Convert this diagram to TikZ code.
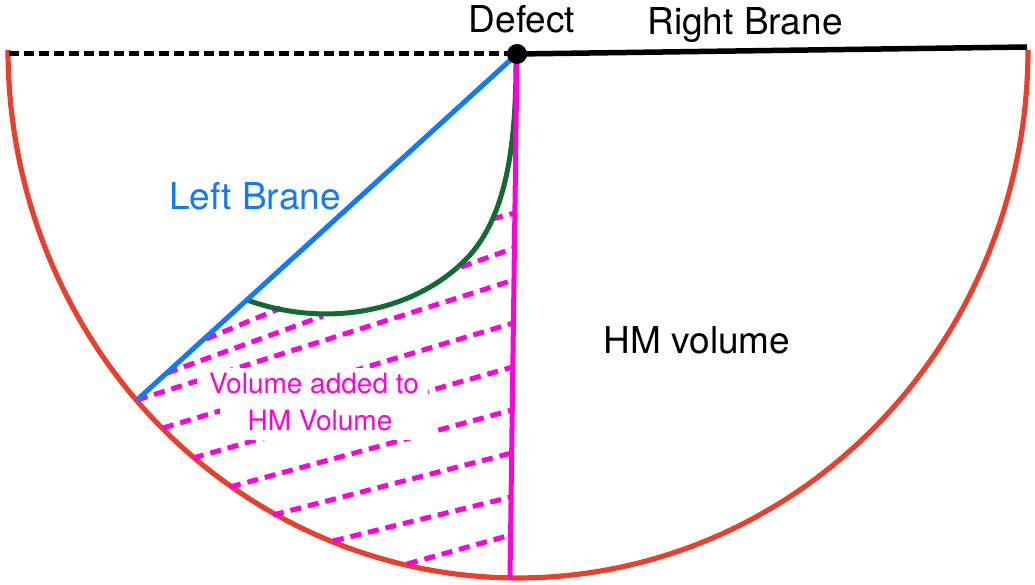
\documentclass[tikz,border=0pt]{standalone}
\usepackage{fontspec}
\setmainfont{TeX Gyre Heros}
\definecolor{arcred}{RGB}{232,64,44}
\definecolor{braneblue}{RGB}{18,122,246}
\definecolor{rtgreen}{RGB}{16,108,48}
\definecolor{hmpink}{RGB}{255,0,218}
\begin{document}
\begin{tikzpicture}[x=1pt,y=-1pt,
  hatch/.style={hmpink, line width=5pt, dash pattern=on 11pt off 7pt},
  big/.style={font=\fontsize{37}{40}\selectfont, anchor=base, inner sep=0pt},
  small/.style={font=\fontsize{28}{32}\selectfont, text=hmpink, anchor=base, inner sep=0pt}]
\useasboundingbox (0,0) rectangle (1035,585);
\coordinate (D) at (517,54);
\coordinate (L) at (9,54);
\coordinate (R) at (1027,47);
\coordinate (B) at (510,578);
\coordinate (C) at (137,400);
% boundary arc
\draw[arcred, line width=5.2pt] plot[domain=180:360, samples=150] ({518+510*cos(\x)},{50-528*sin(\x)});
% top line
\draw[line width=5pt, dash pattern=on 10pt off 5pt] (L) -- (D);
\draw[line width=5.5pt] (D) -- (R);
% hatching
\foreach \p/\q in {{(492,219)}/{(515,213)}, {(461,267)}/{(514.4,248)}, {(206,339)}/{(281,308)},
  {(167,373)}/{(323,316)}, {(137,400)}/{(514,280)}, {(163,428)}/{(513.4,323)},
  {(193,458)}/{(512.8,367)}, {(230,487)}/{(512.2,410)}, {(273,515)}/{(511.7,453)},
  {(333,541)}/{(511.1,497)}, {(407,564)}/{(510.6,535)}}
  \draw[hatch] \p -- \q;
% white backing of the pink label
\fill[white] (197,368) rectangle (428,398);
\fill[white] (220,398) rectangle (433,440);
% labels
\node[big] (defectlbl) at (522,33) {Defect};
\node[big] (rightlbl) at (745,35) {Right Brane};
\node[big, text=braneblue] (leftlbl) at (255,210) {Left Brane};
\node[big] (hmlbl) at (697,353) {HM volume};
\node[small] (add1) at (314,393) {Volume added to};
\node[small] (add2) at (320,430) {HM Volume};
% curves
\draw[rtgreen, line width=5pt] (247,300) .. controls (330,330) and (420,310) .. (470,255)
  .. controls (505,215) and (516,150) .. (516,62);
\draw[braneblue, line width=5pt] (D) -- (C);
\draw[hmpink, line width=5pt] (D) -- (B);
\node[circle, fill=black, inner sep=0pt, minimum size=20pt] (defect) at (D) {};
\end{tikzpicture}
\end{document}
